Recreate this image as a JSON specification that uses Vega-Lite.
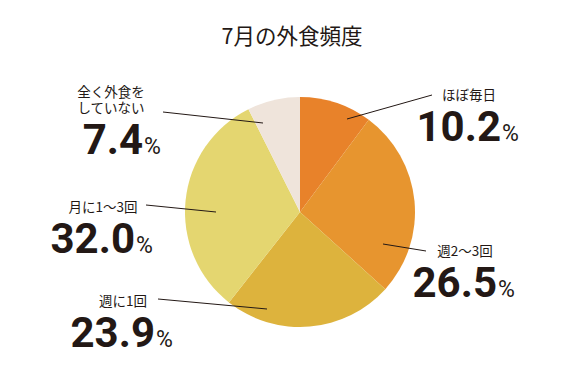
{
  "$schema": "https://vega.github.io/schema/vega-lite/v6.json",
  "width": 568,
  "height": 304,
  "autosize": {"type": "none"},
  "padding": {"left": 16, "top": 60, "right": 0, "bottom": 23},
  "background": "white",
  "title": {"text": "7月の外食頻度", "font": "Noto Sans CJK JP", "fontSize": 21.5, "fontWeight": "normal", "color": "#231815", "anchor": "middle", "offset": 12, "dx": -8},
  "config": {"view": {"stroke": null}},
  "data": {
    "values": [
      {"cat": "ほぼ毎日", "label_top": "", "label": "ほぼ毎日", "value": 10.2, "rank": 1, "ax": 201, "ay": -71, "x1": 47, "y1": -93, "x2": 132, "y2": -117},
      {"cat": "週2〜3回", "label_top": "", "label": "週2〜3回", "value": 26.5, "rank": 2, "ax": 197, "ay": 85, "x1": 83, "y1": 32, "x2": 126, "y2": 39},
      {"cat": "週に1回", "label_top": "", "label": "週に1回", "value": 23.9, "rank": 3, "ax": -145, "ay": 135, "x1": -33, "y1": 97, "x2": -142, "y2": 87},
      {"cat": "月に1〜3回", "label_top": "", "label": "月に1〜3回", "value": 32.0, "rank": 4, "ax": -165, "ay": 41, "x1": -84, "y1": 0, "x2": -154, "y2": -7},
      {"cat": "全く外食をしていない", "label_top": "全く外食を", "label": "していない", "value": 7.4, "rank": 5, "ax": -157, "ay": -58, "x1": -37, "y1": -89, "x2": -137, "y2": -100}
    ]
  },
  "layer": [
    {
      "mark": {"type": "arc", "outerRadius": 115},
      "encoding": {
        "theta": {"field": "value", "type": "quantitative", "stack": true},
        "order": {"field": "rank", "type": "quantitative"},
        "color": {
          "field": "cat", "type": "nominal", "legend": null,
          "scale": {
            "domain": ["ほぼ毎日", "週2〜3回", "週に1回", "月に1〜3回", "全く外食をしていない"],
            "range": ["#E8822A", "#E7952F", "#DDB33D", "#E4D670", "#EFE4DB"]
          }
        }
      }
    },
    {
      "mark": {"type": "rule", "color": "#231815", "strokeWidth": 1},
      "encoding": {
        "x": {"field": "x1", "type": "quantitative", "scale": {"domain": [-284, 284], "nice": false, "zero": false}, "axis": null},
        "y": {"field": "y1", "type": "quantitative", "scale": {"domain": [-152, 152], "nice": false, "zero": false, "reverse": true}, "axis": null},
        "x2": {"field": "x2"},
        "y2": {"field": "y2"}
      }
    },
    {
      "mark": {"type": "text", "align": "right", "baseline": "alphabetic", "font": "Roboto", "fontSize": 42, "fontWeight": "bold", "color": "#231815"},
      "encoding": {
        "x": {"field": "ax", "type": "quantitative", "scale": {"domain": [-284, 284], "nice": false, "zero": false}, "axis": null},
        "y": {"field": "ay", "type": "quantitative", "scale": {"domain": [-152, 152], "nice": false, "zero": false, "reverse": true}, "axis": null},
        "text": {"field": "value", "type": "quantitative", "format": ".1f"}
      }
    },
    {
      "mark": {"type": "text", "align": "left", "baseline": "alphabetic", "dx": 1, "font": "Roboto", "fontSize": 23, "fontWeight": "normal", "color": "#231815", "text": "%"},
      "encoding": {
        "x": {"field": "ax", "type": "quantitative", "scale": {"domain": [-284, 284], "nice": false, "zero": false}, "axis": null},
        "y": {"field": "ay", "type": "quantitative", "scale": {"domain": [-152, 152], "nice": false, "zero": false, "reverse": true}, "axis": null}
      }
    },
    {
      "mark": {"type": "text", "align": "center", "baseline": "bottom", "dx": -32, "dy": -38, "font": "Noto Sans CJK JP", "fontSize": 13.5, "fontWeight": "normal", "color": "#231815"},
      "encoding": {
        "x": {"field": "ax", "type": "quantitative", "scale": {"domain": [-284, 284], "nice": false, "zero": false}, "axis": null},
        "y": {"field": "ay", "type": "quantitative", "scale": {"domain": [-152, 152], "nice": false, "zero": false, "reverse": true}, "axis": null},
        "text": {"field": "label", "type": "nominal"}
      }
    },
    {
      "mark": {"type": "text", "align": "center", "baseline": "bottom", "dx": -32, "dy": -54.5, "font": "Noto Sans CJK JP", "fontSize": 13.5, "fontWeight": "normal", "color": "#231815"},
      "encoding": {
        "x": {"field": "ax", "type": "quantitative", "scale": {"domain": [-284, 284], "nice": false, "zero": false}, "axis": null},
        "y": {"field": "ay", "type": "quantitative", "scale": {"domain": [-152, 152], "nice": false, "zero": false, "reverse": true}, "axis": null},
        "text": {"field": "label_top", "type": "nominal"}
      }
    }
  ]
}
